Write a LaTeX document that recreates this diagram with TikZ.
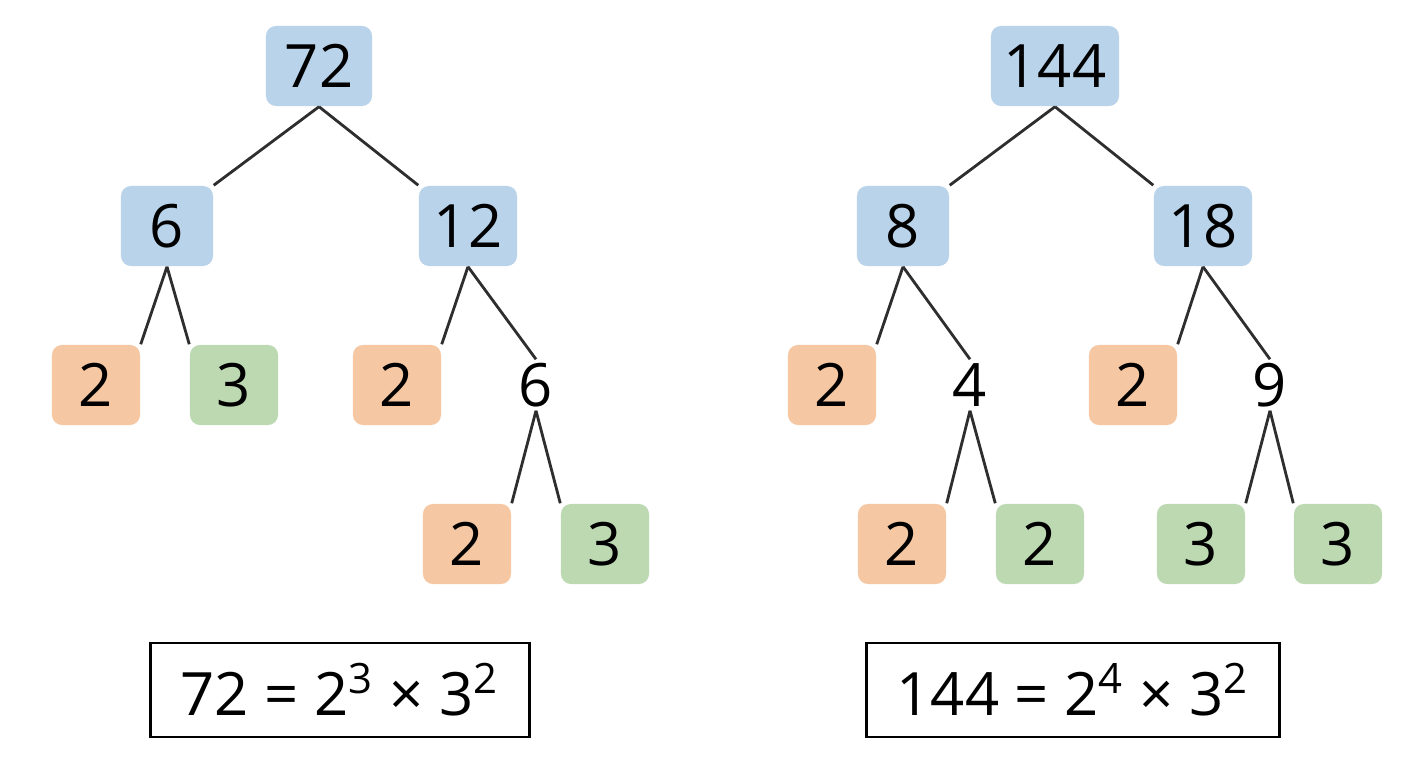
\documentclass[tikz,border=0pt]{standalone}
\usepackage{fontspec}
\setmainfont{Open Sans}
\usepackage{tikz}
\usetikzlibrary{positioning}
\definecolor{boxblue}{HTML}{B9D3EA}
\definecolor{boxorange}{HTML}{F5C7A2}
\definecolor{boxgreen}{HTML}{BDD9B2}
\definecolor{edgegray}{HTML}{2E2E2E}
\tikzset{
	num/.style={font=\fontsize{17}{20}\selectfont, text=black, minimum height=0.8cm, minimum width=0.88cm, inner sep=0pt},
	blue/.style={num, fill=boxblue, rounded corners=0.1cm, minimum width=0.92cm},
	orange/.style={num, fill=boxorange, rounded corners=0.1cm},
	green/.style={num, fill=boxgreen, rounded corners=0.1cm},
	plain/.style={num, minimum height=0.5cm},
	edge/.style={draw=edgegray, line width=0.8pt},
	result/.style={draw=black, line width=0.8pt, font=\fontsize{17}{20}\selectfont, minimum height=0.94cm, inner xsep=0.3cm}
}
\begin{document}
\begin{tikzpicture}[x=0.01cm, y=-0.01cm]
	\useasboundingbox (0,0) rectangle (1408,768);

	% ------------------------------------------------
	% Tree for 72
	\node[blue, minimum width=1.06cm] (A) at (319,66) {72};
	\node[blue] (A1) at (167,226) {6};
	\node[blue, minimum width=0.98cm] (A2) at (468,226) {12};
	\node[orange] (A11) at (96,385) {2};
	\node[green]  (A12) at (234,385) {3};
	\node[orange] (A21) at (397,385) {2};
	\node[plain]  (A22) at (536,385) {6};
	\node[orange] (A221) at (467,544) {2};
	\node[green]  (A222) at (605,544) {3};

	\draw[edge] (A.south) -- (A1.north east);
	\draw[edge] (A.south) -- (A2.north west);
	\draw[edge] (A1.south) -- (A11.north east);
	\draw[edge] (A1.south) -- (A12.north west);
	\draw[edge] (A2.south) -- (A21.north east);
	\draw[edge] (A2.south) -- (A22.north);
	\draw[edge] (A22.south) -- (A221.north east);
	\draw[edge] (A22.south) -- (A222.north west);

	% ------------------------------------------------
	% Tree for 144
	\node[blue, minimum width=1.28cm] (B) at (1055,66) {144};
	\node[blue] (B1) at (903,226) {8};
	\node[blue, minimum width=0.98cm] (B2) at (1203,226) {18};
	\node[orange] (B11) at (832,385) {2};
	\node[plain]  (B12) at (970,385) {4};
	\node[orange] (B21) at (1133,385) {2};
	\node[plain]  (B22) at (1270,385) {9};
	\node[orange] (B121) at (902,544) {2};
	\node[green]  (B122) at (1040,544) {2};
	\node[green]  (B221) at (1201,544) {3};
	\node[green]  (B222) at (1338,544) {3};

	\draw[edge] (B.south) -- (B1.north east);
	\draw[edge] (B.south) -- (B2.north west);
	\draw[edge] (B1.south) -- (B11.north east);
	\draw[edge] (B1.south) -- (B12.north);
	\draw[edge] (B2.south) -- (B21.north east);
	\draw[edge] (B2.south) -- (B22.north);
	\draw[edge] (B12.south) -- (B121.north east);
	\draw[edge] (B12.south) -- (B122.north west);
	\draw[edge] (B22.south) -- (B221.north east);
	\draw[edge] (B22.south) -- (B222.north west);

	% ------------------------------------------------
	% Results
	\node[result, minimum width=3.54cm] (RA) at (340,690) {72 = 2\textsuperscript{3} × 3\textsuperscript{2}};
	\node[result, minimum width=3.87cm] (RB) at (1073,690) {144 = 2\textsuperscript{4} × 3\textsuperscript{2}};
\end{tikzpicture}
\end{document}
